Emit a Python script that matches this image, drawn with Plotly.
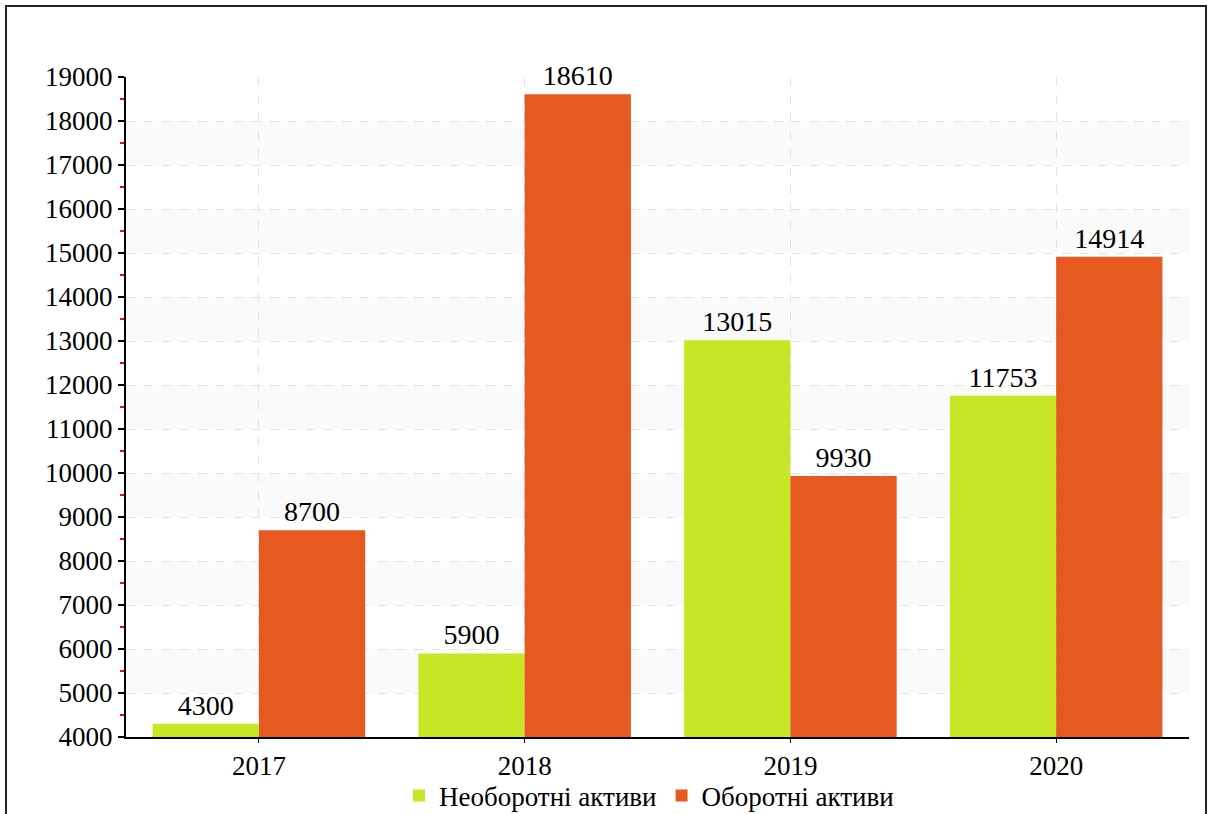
import plotly.graph_objects as go

years = ["2017", "2018", "2019", "2020"]
non_current = [4300, 5900, 13015, 11753]
current = [8700, 18610, 9930, 14914]
series_names = ["Необоротні активи", "Оборотні активи"]
y_ticks = list(range(4000, 19001, 1000))

GREEN = "#C9E626"
ORANGE = "#E65A22"
FONT = "Liberation Serif, DejaVu Serif"
FS_TICK = 27
FS_LABEL = 28
FS_LEG = 27

fig = go.Figure()
fig.add_trace(go.Bar(x=years, y=non_current, name=series_names[0], marker_color=GREEN,
                     marker_line_width=0, text=[str(v) for v in non_current],
                     textposition="outside", cliponaxis=False,
                     textfont=dict(family=FONT, size=FS_LABEL, color="black")))
fig.add_trace(go.Bar(x=years, y=current, name=series_names[1], marker_color=ORANGE,
                     marker_line_width=0, text=[str(v) for v in current],
                     textposition="outside", cliponaxis=False,
                     textfont=dict(family=FONT, size=FS_LABEL, color="black")))

L, R, T, B = 126, 20, 77, 77
W, H = 1209, 814
pw, ph = W - L - R, H - T - B

shapes = []
for lo in range(5000, 19000, 2000):
    shapes.append(dict(type="rect", xref="paper", yref="y", x0=0, x1=1, y0=lo, y1=lo + 1000,
                       fillcolor="#fafafa", line_width=0, layer="below"))
# outer frame
shapes.append(dict(type="rect", xref="paper", yref="paper",
                   x0=(6 - L) / pw, x1=(1206 - L) / pw,
                   y0=(H - B - 818) / ph, y1=(H - B - 6) / ph,
                   line=dict(color="#222", width=2), fillcolor="rgba(0,0,0,0)", layer="above"))

fig.update_layout(
    width=W, height=H,
    margin=dict(l=L, r=R, t=T, b=B, autoexpand=False),
    paper_bgcolor="white", plot_bgcolor="white",
    barmode="group", bargap=0.2, bargroupgap=0,
    font=dict(family=FONT, size=FS_TICK, color="black"),
    showlegend=True,
    legend=dict(orientation="h", x=(649 - L) / pw, xanchor="center", y=(H - B - 796) / ph, yanchor="middle",
                font=dict(family=FONT, size=FS_LEG), itemwidth=30, traceorder="normal",
                bgcolor="rgba(0,0,0,0)"),
    shapes=shapes,
)
fig.update_xaxes(showline=True, linecolor="black", linewidth=2, showgrid=True,
                 gridcolor="#e2e2e2", griddash="dash", gridwidth=1,
                 ticks="outside", ticklen=4, tickcolor="black",
                 tickfont=dict(family=FONT, size=FS_TICK), automargin=False)
fig.update_yaxes(range=[4000, 19000], tickvals=y_ticks, ticktext=[str(v) for v in y_ticks],
                 showline=True, linecolor="black", linewidth=2,
                 showgrid=True, gridcolor="#e2e2e2", griddash="dash", gridwidth=1,
                 ticks="outside", ticklen=6, tickcolor="black", tickwidth=2,
                 minor=dict(dtick=500, tick0=4000, ticks="outside", ticklen=4, tickcolor="red",
                            tickwidth=2, showgrid=False),
                 tickfont=dict(family=FONT, size=FS_TICK), zeroline=False, automargin=False)

fig.write_html("out.html")
